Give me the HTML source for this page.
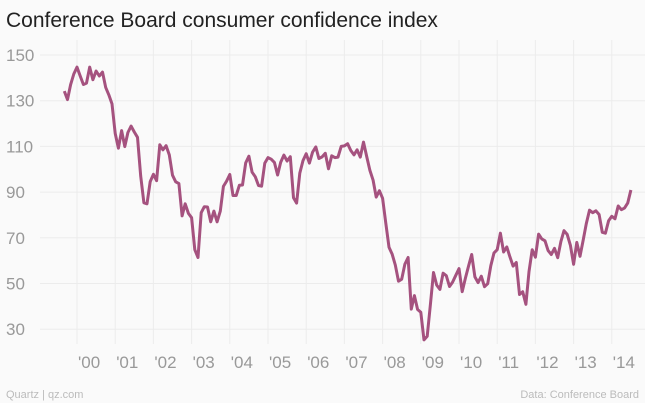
<!DOCTYPE html>
<html><head><meta charset="utf-8"><style>
body{margin:0;background:#fafafa;}
svg{display:block;font-family:"Liberation Sans",sans-serif;}
</style></head><body>
<svg width="645" height="403" viewBox="0 0 645 403">
<rect width="645" height="403" fill="#fafafa"/>
<text x="6" y="27" font-size="21" fill="#222">Conference Board consumer confidence index</text>
<g id="grid"></g>
<g id="yaxis"></g>
<g id="xaxis"></g>
<path id="line" fill="none" stroke="#a5527f" stroke-width="3" stroke-linejoin="round"/>
<text x="6" y="398" font-size="11" fill="#bbb">Quartz | qz.com</text>
<text x="639" y="398" font-size="11" fill="#bbb" text-anchor="end">Data: Conference Board</text>
</svg>
<script>
const startYear = 1999, startMonth = 9;
const values = [
134.2,130.5,137.0,141.7,
144.7,140.8,137.1,137.7,144.7,139.2,143.0,140.8,142.5,135.8,132.6,128.6,
115.7,109.2,116.9,109.9,116.1,118.9,116.3,114.0,97.0,85.3,84.9,94.6,
97.8,95.0,110.7,108.5,110.3,106.3,97.4,94.5,93.7,79.6,84.9,80.7,
78.8,64.8,61.4,81.0,83.6,83.5,77.0,81.7,77.0,81.7,92.5,94.8,
97.7,88.5,88.5,93.0,93.1,102.8,105.7,98.7,96.7,92.9,92.6,102.7,
105.1,104.4,103.0,97.5,103.1,106.2,103.6,105.5,87.5,85.2,98.3,103.8,
106.8,102.7,107.5,109.8,104.7,105.4,107.0,100.2,105.9,105.1,105.3,110.0,
110.2,111.2,108.2,106.3,108.5,105.3,111.9,105.6,99.5,95.2,87.8,90.6,
87.3,76.4,65.9,62.8,58.1,51.0,51.9,58.5,61.4,38.8,44.7,38.6,
37.4,25.3,26.9,40.8,54.8,49.3,47.4,54.5,53.4,48.7,50.6,53.6,
56.5,46.4,52.3,57.7,62.7,52.9,50.4,53.2,48.6,49.9,57.8,63.4,
64.8,72.0,63.8,66.0,61.7,57.6,59.2,45.2,46.4,40.9,55.2,64.8,
61.5,71.6,69.5,68.7,64.4,62.7,65.4,61.3,68.4,73.1,71.5,66.7,
58.4,68.0,61.9,69.0,76.2,82.1,81.0,81.8,80.2,72.4,72.0,77.5,
79.4,78.3,83.9,82.3,83.0,85.2,90.9];
const yTicks = [150,130,110,90,70,50,30];
const xYears = [2000,2001,2002,2003,2004,2005,2006,2007,2008,2009,2010,2011,2012,2013,2014];
const xLabels = ["'00","'01","'02","'03","'04","'05","'06","'07","'08","'09","'10","'11","'12","'13","'14"];

const NS="http://www.w3.org/2000/svg";
function X(t){return 77+(t-2000)*38.2;}
function Y(v){return 55+(150-v)*2.285;}
const grid=document.getElementById('grid'),ya=document.getElementById('yaxis'),xa=document.getElementById('xaxis');
yTicks.forEach(v=>{
  const l=document.createElementNS(NS,'line');
  
  
  l.setAttribute('x1',40);l.setAttribute('x2',645);l.setAttribute('y1',Y(v));l.setAttribute('y2',Y(v));
  l.setAttribute('stroke','#ececec');l.setAttribute('stroke-width','1');
  grid.appendChild(l);
  const t=document.createElementNS(NS,'text');
  
  
  t.setAttribute('x',6);t.setAttribute('y',Y(v)+6);t.setAttribute('font-size','17');t.setAttribute('fill','#999');
  t.textContent=v;ya.appendChild(t);
});
xYears.forEach((yr,i)=>{
  const l=document.createElementNS(NS,'line');
  
  
  l.setAttribute('x1',X(yr));l.setAttribute('x2',X(yr));l.setAttribute('y1',40);l.setAttribute('y2',344);
  l.setAttribute('stroke','#ececec');l.setAttribute('stroke-width','1');
  grid.appendChild(l);
  const t=document.createElementNS(NS,'text');
  
  
  t.setAttribute('x',X(yr)+1);t.setAttribute('y',368);t.setAttribute('font-size','17');t.setAttribute('fill','#999');
  t.textContent=xLabels[i];xa.appendChild(t);
});
let d='';
values.forEach((v,i)=>{
  const t=startYear+(startMonth-1+i)/12;
  d+=(i?'L':'M')+X(t).toFixed(1)+' '+Y(v).toFixed(1);
});
document.getElementById('line').setAttribute('d',d);
</script>
</body></html>
